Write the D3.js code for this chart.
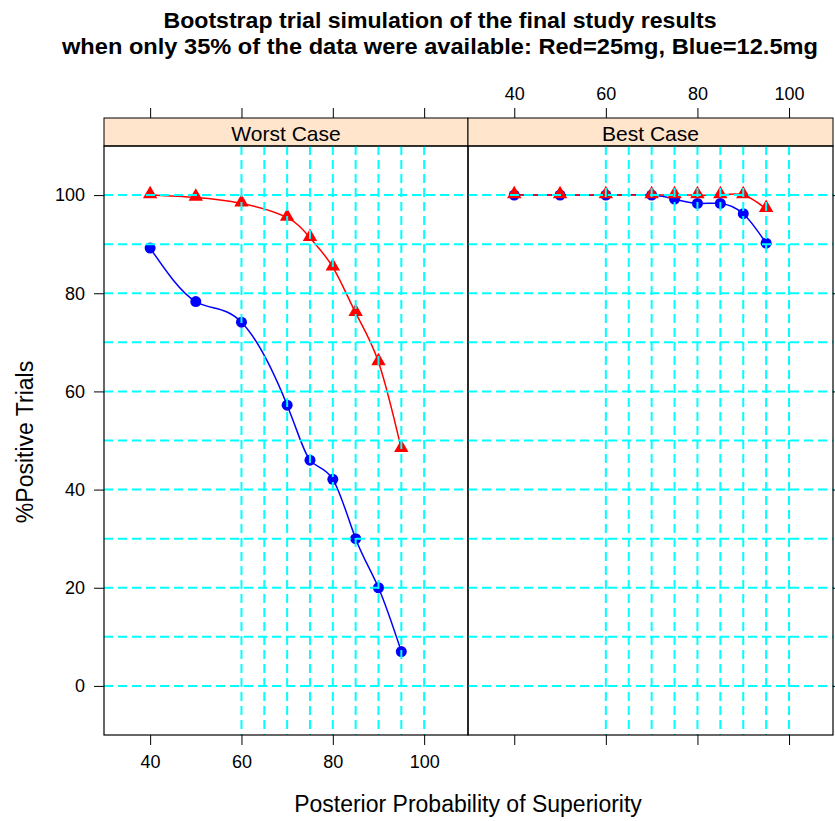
<!DOCTYPE html>
<html><head><meta charset="utf-8">
<script src="https://cdn.jsdelivr.net/npm/d3@7"></script>
<style>body{margin:0;background:#fff}svg{display:block}text{font-family:"Liberation Sans",Arial,sans-serif}</style>
</head><body><svg id="c" width="835" height="821"></svg>
<script>
const panels = ["Worst Case", "Best Case"];
const xVals = [40, 50, 60, 70, 75, 80, 85, 90, 95];
const worstRed = [100, 99.5, 98.3, 95.4, 91.3, 85.3, 76, 66, 48.3];
const worstBlue = [89.2, 78.3, 74.1, 57.2, 46, 42.1, 30, 20, 7];
const bestRed = [100, 100, 100, 100, 100, 100, 100, 100, 97.2];
const bestBlue = [100, 100, 100, 100, 99.2, 98.3, 98.3, 96.2, 90.2];
const xTicks = [40, 60, 80, 100];
const yTicks = [0, 20, 40, 60, 80, 100];
const hGrid = [0, 10, 20, 30, 40, 50, 60, 70, 80, 90, 100];
const vGrid = [60, 65, 70, 75, 80, 85, 90, 95, 100];
const titleLines = ["Bootstrap trial simulation of the final study results",
  "when only 35% of the data were available: Red=25mg, Blue=12.5mg"];

(function () {
const series = [[worstBlue, worstRed], [bestBlue, bestRed]];
const svg = d3.select("#c");
const pTop = 146, pBottom = 735, stripTop = 118;
const pX = [[104, 468], [468, 833]];
const y = d3.scaleLinear().domain([-10, 110]).range([pBottom, pTop]);
const FF = '"Liberation Sans",Arial,sans-serif';

panels.forEach((name, i) => {
  const [x0, x1] = pX[i];
  const x = d3.scaleLinear().domain([29.9, 109.6]).range([x0, x1]);
  const g = svg.append("g");
  g.append("rect").attr("x", x0).attr("y", stripTop).attr("width", x1 - x0).attr("height", pTop - stripTop)
    .attr("fill", "#FFE5CC").attr("stroke", "#000").attr("stroke-width", 1);
  g.append("text").attr("x", (x0 + x1) / 2).attr("y", pTop - 5).attr("text-anchor", "middle")
    .attr("font-size", 21).text(name);
  const cid = "clip" + i;
  svg.append("clipPath").attr("id", cid).append("rect").attr("x", x0).attr("y", pTop).attr("width", x1 - x0).attr("height", pBottom - pTop);
  const pg = g.append("g").attr("clip-path", `url(#${cid})`);
  const [blue, red] = series[i];
  const line = d3.line().x((d, j) => x(xVals[j])).y(d => y(d)).curve(d3.curveNatural);
  pg.append("path").attr("d", line(blue)).attr("fill", "none").attr("stroke", "#0000FF").attr("stroke-width", 1.5);
  pg.append("path").attr("d", line(red)).attr("fill", "none").attr("stroke", "#FF0000").attr("stroke-width", 1.5);
  pg.selectAll(".bp").data(blue).join("circle").attr("cx", (d, j) => x(xVals[j])).attr("cy", d => y(d))
    .attr("r", 5.5).attr("fill", "#0000FF");
  const tri = d3.symbol().type(d3.symbolTriangle).size(90);
  pg.selectAll(".rp").data(red).join("path").attr("d", tri)
    .attr("transform", (d, j) => `translate(${x(xVals[j])},${y(d) - 1})`).attr("fill", "#FF0000");
  pg.selectAll(".hg").data(hGrid).join("line").attr("x1", x0).attr("x2", x1)
    .attr("y1", d => y(d)).attr("y2", d => y(d)).attr("stroke", "#00FFFF").attr("stroke-width", 2).attr("stroke-dasharray", "9,5");
  pg.selectAll(".vg").data(vGrid).join("line").attr("y1", pTop).attr("y2", pBottom)
    .attr("x1", d => x(d)).attr("x2", d => x(d)).attr("stroke", "#00FFFF").attr("stroke-width", 2).attr("stroke-dasharray", "9,5");
  g.append("rect").attr("x", x0).attr("y", pTop).attr("width", x1 - x0).attr("height", pBottom - pTop)
    .attr("fill", "none").attr("stroke", "#000").attr("stroke-width", 1.2);
  const bAx = d3.axisBottom(x).tickValues(xTicks).tickSize(10).tickPadding(10);
  const tAx = d3.axisTop(x).tickValues(xTicks).tickSize(10).tickPadding(8);
  const bg = g.append("g").attr("transform", `translate(0,${pBottom})`).call(bAx);
  const tg = g.append("g").attr("transform", `translate(0,${stripTop})`).call(tAx);
  [bg, tg].forEach(a => { a.select(".domain").remove(); a.selectAll("line").attr("stroke", "#000");
    a.selectAll("text").attr("font-size", 18).attr("fill", "#000").style("font-family", FF); });
  if (i === 0) tg.selectAll("text").remove(); else bg.selectAll("text").remove();
});
const la = svg.append("g").attr("transform", `translate(104,0)`).call(d3.axisLeft(y).tickValues(yTicks).tickSize(10).tickPadding(9));
const ra = svg.append("g").attr("transform", `translate(833,0)`).call(d3.axisRight(y).tickValues(yTicks).tickSize(10));
[la, ra].forEach(a => { a.select(".domain").remove(); a.selectAll("line").attr("stroke", "#000");
  a.selectAll("text").attr("font-size", 18).attr("fill", "#000").style("font-family", FF); });
ra.selectAll("text").remove();

svg.selectAll(".tt").data(titleLines).join("text").attr("x", 440).attr("y", (d, i) => 28 + i * 26)
  .attr("text-anchor", "middle").attr("font-size", 22.5).attr("font-weight", "bold")
  .attr("textLength", (d, i) => i === 0 ? 553 : 756).attr("lengthAdjust", "spacingAndGlyphs").text(d => d);
svg.append("text").attr("x", 468).attr("y", 812).attr("text-anchor", "middle").attr("font-size", 23)
  .text("Posterior Probability of Superiority");
svg.append("text").attr("transform", "translate(33,442) rotate(-90)").attr("text-anchor", "middle")
  .attr("font-size", 23).text("%Positive Trials");
})();
</script></body></html>
